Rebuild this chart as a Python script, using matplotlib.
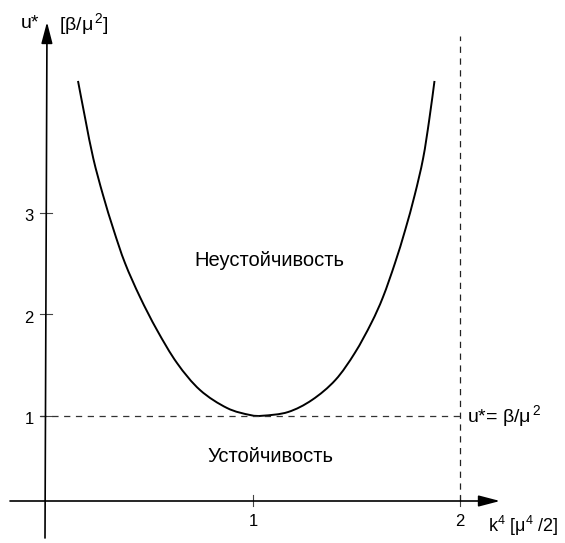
import matplotlib
matplotlib.use("Agg")
import matplotlib.pyplot as plt
from matplotlib.path import Path
from matplotlib.patches import PathPatch

plt.rcParams['font.family'] = ['Liberation Sans', 'DejaVu Sans']
plt.rcParams['mathtext.fontset'] = 'custom'
plt.rcParams['mathtext.rm'] = 'Liberation Sans'
plt.rcParams['mathtext.it'] = 'Liberation Sans'
plt.rcParams['mathtext.default'] = 'regular'
plt.rcParams['lines.scale_dashes'] = False

# критическая кривая u*(k^4)
k4 = [0.1546, 0.1908, 0.2285, 0.2754, 0.3271, 0.3816, 0.4541, 0.5362, 0.6329,
      0.7440, 0.8744, 0.9855, 1.0483, 1.1691, 1.2850, 1.3981, 1.4918, 1.5715,
      1.6280, 1.6860, 1.7353, 1.7812, 1.8217, 1.8512, 1.8768]
u_star = [4.298, 3.913, 3.534, 3.174, 2.828, 2.504, 2.169, 1.844, 1.519,
          1.253, 1.076, 1.007, 1.000, 1.036, 1.155, 1.352, 1.618, 1.913,
          2.169, 2.504, 2.830, 3.174, 3.534, 3.913, 4.298]

x_ticks = [1, 2]
y_ticks = [1, 2, 3]
u_crit = 1.0     # u* = beta/mu^2
k4_max = 2.0     # граница неустойчивости

# масштаб: пиксели -> единицы графика
X0, XU = 46.0, 207.0
Y1, YU = 415.7, 101.5
W, H = 565, 543


def px(x, y):
    return (x - X0) / XU, 1 + (Y1 - y) / YU


def smooth_path(xs, ys):
    # гладкая кривая через точки (Catmull-Rom -> кубические Безье)
    pts = list(zip(xs, ys))
    verts = [pts[0]]
    codes = [Path.MOVETO]
    n = len(pts)
    for i in range(n - 1):
        p0 = pts[i - 1] if i > 0 else pts[i]
        p1, p2 = pts[i], pts[i + 1]
        p3 = pts[i + 2] if i + 2 < n else pts[i + 1]
        c1 = (p1[0] + (p2[0] - p0[0]) / 6, p1[1] + (p2[1] - p0[1]) / 6)
        c2 = (p2[0] - (p3[0] - p1[0]) / 6, p2[1] - (p3[1] - p1[1]) / 6)
        verts += [c1, c2, p2]
        codes += [Path.CURVE4] * 3
    return Path(verts, codes)


fig = plt.figure(figsize=(W / 100, H / 100), dpi=100)
ax = fig.add_axes([0, 0, 1, 1])
ax.set_xlim(px(0, 0)[0], px(W, 0)[0])
ax.set_ylim(px(0, H)[1], px(0, 0)[1])
ax.axis('off')

arrow = dict(arrowstyle='-|>,head_length=0.65,head_width=0.17', mutation_scale=20,
             lw=1.2, color='black', shrinkA=0, shrinkB=0)

# оси
ax.annotate('', xy=px(500, 501), xytext=px(10, 501), arrowprops=arrow)
ax.annotate('', xy=px(47, 22), xytext=px(45, 538), arrowprops=arrow)

# деления
dx = 6 / XU
dy = 5.5 / YU
ax_y = px(0, 501)[1]
for t in y_ticks:
    ax.plot([-dx, dx], [t, t], color='#444444', lw=0.8)
    ax.text(px(29, 0)[0], t - 4 / YU, str(t), fontsize=12, ha='center', va='center')
for t in x_ticks:
    ax.plot([t, t], [ax_y - dy, ax_y + dy], color='#444444', lw=0.8)
    ax.text(t, px(0, 521.5)[1], str(t), fontsize=12, ha='center', va='center')

# пунктирные линии
ax.plot([px(40, 0)[0], k4_max], [u_crit, u_crit], color='#333333', lw=0.9,
        dashes=(4.5, 4))
ax.plot([k4_max, k4_max], [ax_y, px(0, 36)[1]], color='#222222', lw=0.9,
        dashes=(4.5, 4))

# кривая
ax.add_patch(PathPatch(smooth_path(k4, u_star), facecolor='none',
                       edgecolor='black', lw=1.4))

# подписи
ax.text(*px(30, 24), 'u*', fontsize=14, ha='center', va='center')
ax.text(*px(59, 24), '[β/μ$^{\\,2}$]', fontsize=14, ha='left', va='center')
ax.text(*px(467, 416), 'u*= β/μ$^{\\,2}$', fontsize=14, ha='left', va='center')
ax.text(*px(488, 526), 'k$^{4}$ [μ$^{4}$ /2]', fontsize=13, ha='left', va='center')
ax.text(*px(269, 260), 'Неустойчивость', fontsize=14.5, ha='center', va='center')
ax.text(*px(270, 457), 'Устойчивость', fontsize=14.5, ha='center', va='center')

fig.savefig('out.png', dpi=100)
